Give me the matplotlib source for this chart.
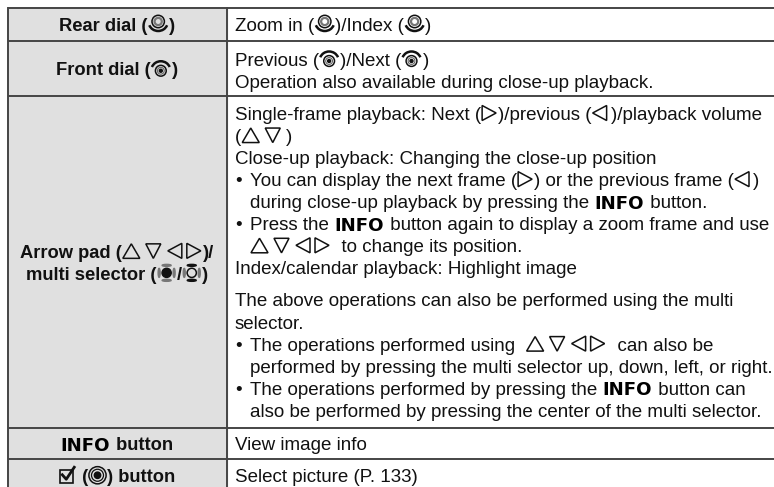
"""Camera manual table, drawn as inline text runs and small icons in pixel coordinates."""

import re

import matplotlib

matplotlib.use("Agg")
import matplotlib.pyplot as plt
from matplotlib.patches import Arc, Circle, Ellipse, Polygon, Rectangle

WIDTH = 774
HEIGHT = 487
FONT = "Liberation Sans"
HEAVY = "DejaVu Sans"
BODY_PX = 18.8
LABEL_PX = 18.4
INFO_PX = 18.2
LINE_COLOR = "#454545"
HEAD_COLOR = "#e0e0e0"
TEXT_COLOR = "#111111"

# {name} marks an inline icon, {INFO} the heavy INFO word, a leading "* " a bullet
ROW_LABELS = [
    ["Rear dial ({rear})"],
    ["Front dial ({front})"],
    ["Arrow pad ({up}{down}{left}{right})/", "multi selector ({multi_on}/{multi_off})"],
    ["{INFO} button"],
    ["{check} ({ok}) button"],
]
ROW_LINES = [
    ["Zoom in ({rear})/Index ({rear})"],
    ["Previous ({front})/Next ({front})", "Operation also available during close-up playback."],
    [
        "Single-frame playback: Next ({right})/previous ({left})/playback volume",
        "({up}{down})",
        "Close-up playback: Changing the close-up position",
        "* You can display the next frame ({right}) or the previous frame ({left})",
        "> during close-up playback by pressing the {INFO} button.",
        "* Press the {INFO} button again to display a zoom frame and use",
        "> {up}{down}{left}{right}  to change its position.",
        "Index/calendar playback: Highlight image",
    ],
    ["View image info"],
    ["Select picture (P. 133)"],
]
SECOND_BLOCK = [
    "The above operations can also be performed using the multi",
    "selector.",
    "* The operations performed using  {up}{down}{left}{right}  can also be",
    "> performed by pressing the multi selector up, down, left, or right.",
    "* The operations performed by pressing the {INFO} button can",
    "> also be performed by pressing the center of the multi selector.",
]

# advance width of each icon
ICON_WIDTH = {
    "rear": 21, "front": 21, "up": 23, "down": 22, "left": 19, "right": 17,
    "multi_on": 20, "multi_off": 20, "check": 18, "ok": 19,
}
TOKEN = re.compile(r"(\{\w+\})")


def draw_icon(axis, name, x, yc):
    line = {"fill": False, "edgecolor": TEXT_COLOR, "linewidth": 1.1}
    if name == "up":
        axis.add_patch(Polygon([(x + 1, yc + 7.5), (x + 18, yc + 7.5), (x + 9.5, yc - 7)], **line))
    elif name == "down":
        axis.add_patch(Polygon([(x + 1, yc - 7), (x + 16, yc - 7), (x + 8.5, yc + 7.5)], **line))
    elif name == "left":
        axis.add_patch(Polygon([(x + 15, yc - 7.5), (x + 15, yc + 7.5), (x + 1, yc)], **line))
    elif name == "right":
        axis.add_patch(Polygon([(x + 1, yc - 7.5), (x + 1, yc + 7.5), (x + 15, yc)], **line))
    elif name == "rear":
        cx = x + 10.5
        axis.add_patch(Circle((cx, yc - 2.5), 6.2, **line))
        axis.add_patch(Circle((cx, yc - 2.5), 3.6, fill=False, edgecolor="#777777", linewidth=1.6))
        axis.add_patch(Arc((cx, yc - 2), 19, 18, theta1=20, theta2=160, color=TEXT_COLOR, linewidth=1.8))
    elif name == "front":
        cx = x + 10
        axis.add_patch(Circle((cx, yc + 2.5), 5.4, **line))
        axis.add_patch(Circle((cx, yc + 2.5), 3.4, fill=False, edgecolor="#666666", linewidth=0.8))
        axis.add_patch(Circle((cx, yc + 2.5), 1.5, color=TEXT_COLOR))
        axis.add_patch(Arc((cx, yc + 2), 19, 18, theta1=200, theta2=340, color=TEXT_COLOR, linewidth=1.8))
    elif name in ("multi_on", "multi_off"):
        cx = x + 10
        if name == "multi_on":
            axis.add_patch(Circle((cx, yc), 4.6, color=TEXT_COLOR))
        else:
            axis.add_patch(Circle((cx, yc), 4.6, **line))
        top_color = "#777777" if name == "multi_on" else TEXT_COLOR
        side_color = "#777777"
        axis.add_patch(Ellipse((cx, yc - 7.5), 9, 2, color=top_color))
        axis.add_patch(Ellipse((cx, yc + 7.5), 9, 2, color=top_color))
        axis.add_patch(Ellipse((cx - 7.5, yc), 2, 9, color=side_color))
        axis.add_patch(Ellipse((cx + 7.5, yc), 2, 9, color=side_color))
    elif name == "check":
        axis.add_patch(Rectangle((x + 1, yc - 5.5), 13, 13, fill=False, edgecolor=TEXT_COLOR, linewidth=1.2))
        axis.plot([x + 3.5, x + 7.5, x + 15.5], [yc - 0.5, yc + 4, yc - 8], color=TEXT_COLOR, lw=2.0)
    elif name == "ok":
        cx = x + 9.5
        axis.add_patch(Circle((cx, yc), 8.6, **line))
        axis.add_patch(Circle((cx, yc), 6.0, fill=False, edgecolor=TEXT_COLOR, linewidth=0.9))
        axis.add_patch(Circle((cx, yc), 3.2, color=TEXT_COLOR))


def text_width(axis, value, size_px, bold):
    """用竖线夹住后量宽度，保留首尾空格。"""
    renderer = axis.figure.canvas.get_renderer()
    weight = "bold" if bold else "normal"
    probe = axis.text(0, 0, "|" + value + "|", fontsize=size_px * 0.72, family=FONT, weight=weight)
    bars = axis.text(0, 0, "||", fontsize=size_px * 0.72, family=FONT, weight=weight)
    run_width = probe.get_window_extent(renderer).width - bars.get_window_extent(renderer).width
    probe.remove()
    bars.remove()
    return run_width


def layout_runs(axis, line, size_px, bold):
    runs = []
    for part in TOKEN.split(line):
        if not part:
            continue
        if part == "{INFO}":
            renderer = axis.figure.canvas.get_renderer()
            probe = axis.text(0, 0, "INFO", fontsize=INFO_PX * 0.72, family=HEAVY, weight="bold")
            runs.append(("info", "INFO", probe.get_window_extent(renderer).width + 1))
            probe.remove()
        elif part.startswith("{"):
            name = part[1:-1]
            runs.append(("icon", name, ICON_WIDTH[name]))
        else:
            runs.append(("text", part, text_width(axis, part, size_px, bold)))
    return runs


def draw_line(axis, line, yc, bold=False, left=None, center=None):
    size_px = LABEL_PX if bold else BODY_PX
    if line.startswith("* "):
        axis.text(left, yc + 0.5, "•", fontsize=size_px * 0.72, family=FONT, color=TEXT_COLOR,
                  ha="left", va="center_baseline")
        line = line[2:]
        left += 15
    elif line.startswith("> "):
        line = line[2:]
        left += 15
    runs = layout_runs(axis, line, size_px, bold)
    total = sum(run[2] for run in runs)
    x = left if left is not None else center - total / 2
    weight = "bold" if bold else "normal"
    for kind, value, run_width in runs:
        if kind == "text":
            axis.text(x, yc + 0.5, value.replace(" ", "\u00a0"), fontsize=size_px * 0.72, family=FONT,
                      weight=weight, color=TEXT_COLOR, ha="left", va="center_baseline")
        elif kind == "info":
            axis.text(x, yc + 0.5, value, fontsize=INFO_PX * 0.72, family=HEAVY, weight="bold",
                      color="black", ha="left", va="center_baseline")
        else:
            draw_icon(axis, value, x, yc)
        x += run_width


def main():
    figure = plt.figure(figsize=(WIDTH / 100, HEIGHT / 100), dpi=100)
    axis = figure.add_axes([0, 0, 1, 1])
    axis.set_xlim(0, WIDTH)
    axis.set_ylim(HEIGHT, 0)
    axis.axis("off")

    table_left = 7.5
    table_right = 775
    split = 226.5
    row_edges = [7.5, 40.5, 96, 427.7, 458.5, 492]
    pitch = 22.05

    axis.add_patch(Rectangle((table_left, row_edges[0]), split - table_left,
                             row_edges[-1] - row_edges[0], color=HEAD_COLOR, zorder=0))
    for edge in row_edges[:-1]:
        axis.plot([table_left, table_right], [edge, edge], color=LINE_COLOR, lw=1.4, zorder=1,
                  solid_capstyle="butt")
    for edge in (table_left, split):
        axis.plot([edge, edge], [row_edges[0], row_edges[-1]], color=LINE_COLOR, lw=1.4, zorder=1)

    text_left = 235
    for index, label_lines in enumerate(ROW_LABELS):
        mid = (row_edges[index] + row_edges[index + 1]) / 2
        for k, label in enumerate(label_lines):
            offset = (k - (len(label_lines) - 1) / 2) * 22
            draw_line(axis, label, mid + offset, bold=True, center=(table_left + split) / 2)

    draw_line(axis, ROW_LINES[0][0], 24, left=text_left)
    draw_line(axis, ROW_LINES[1][0], 58.5, left=text_left)
    draw_line(axis, ROW_LINES[1][1], 81.5, left=text_left)
    for k, line in enumerate(ROW_LINES[2]):
        draw_line(axis, line, 113 + k * pitch, left=text_left)
    for k, line in enumerate(SECOND_BLOCK):
        draw_line(axis, line, 299.5 + k * pitch, left=text_left)
    draw_line(axis, ROW_LINES[3][0], 443, left=text_left)
    draw_line(axis, ROW_LINES[4][0], 475, left=text_left)

    figure.savefig("out.png", dpi=100)


if __name__ == "__main__":
    main()
